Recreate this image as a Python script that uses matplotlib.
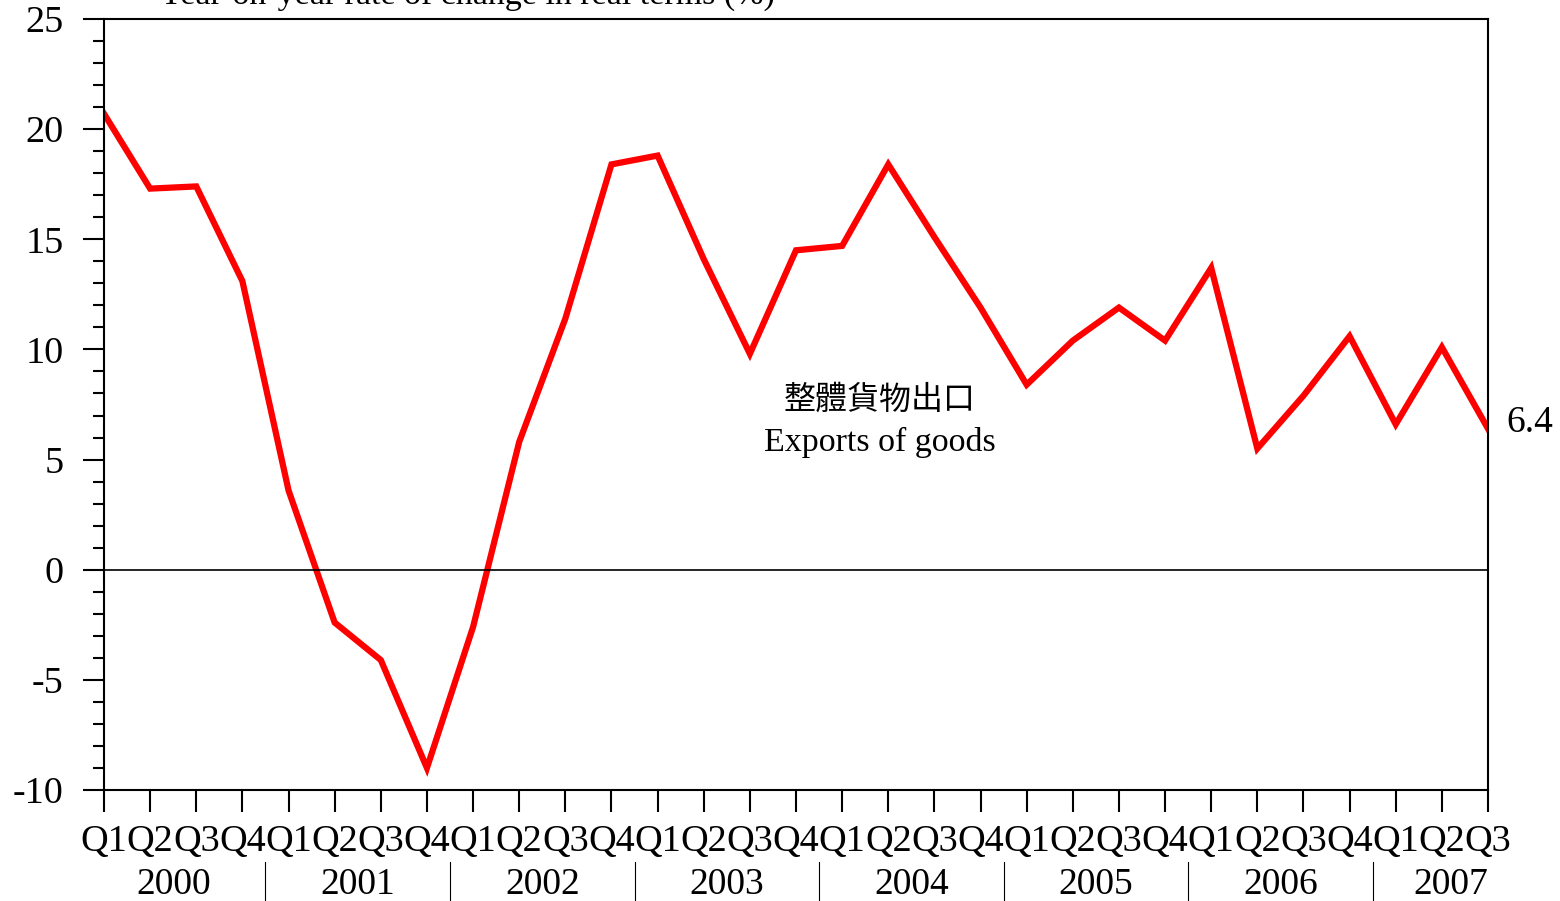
import matplotlib.pyplot as plt
from matplotlib.ticker import MultipleLocator

# Data (year-on-year % change, real terms)
quarters = ["Q1", "Q2", "Q3", "Q4"] * 7 + ["Q1", "Q2", "Q3"]
years = ["2000", "2001", "2002", "2003", "2004", "2005", "2006", "2007"]
exports = [20.7, 17.3, 17.4, 13.1,
           3.6, -2.4, -4.1, -9.0,
           -2.6, 5.8, 11.4, 18.4,
           18.8, 14.1, 9.8, 14.5,
           14.7, 18.4, 15.1, 11.9,
           8.4, 10.4, 11.9, 10.4,
           13.7, 5.5, 7.9, 10.6,
           6.6, 10.1, 6.4]

SERIF = ["Liberation Serif", "DejaVu Serif"]
CJK = ["Noto Sans CJK TC", "DejaVu Sans"]


def main():
    plt.rcParams["font.family"] = SERIF
    plt.rcParams["axes.unicode_minus"] = False
    fig = plt.figure(figsize=(15.6, 9.01), dpi=100)
    ax = fig.add_axes([104 / 1560, 1 - 790 / 901, 1384 / 1560, 771 / 901])

    x = list(range(len(exports)))
    ax.plot(x, exports, color="#ff0000", lw=4.5, solid_joinstyle="miter")
    ax.axhline(0, color="black", lw=1.2)

    ax.set_xlim(0, len(exports) - 1)
    ax.set_ylim(-10, 25)

    # y axis
    ax.yaxis.set_major_locator(MultipleLocator(5))
    ax.yaxis.set_minor_locator(MultipleLocator(1))
    ax.tick_params(axis="y", which="major", direction="out", length=15,
                   width=1.5, labelsize=27.5, pad=14)
    ax.tick_params(axis="y", which="minor", direction="out", length=8, width=1.5)

    # x axis
    ax.set_xticks(x)
    ax.set_xticklabels(quarters)
    ax.tick_params(axis="x", direction="out", length=16, width=1.5,
                   labelsize=27.5, pad=9)

    for s in ax.spines.values():
        s.set_linewidth(1.5)

    # year labels and separators under quarter labels
    for k, yr in enumerate(years):
        if k < 7:
            cx = 4 * k + 1.5
        else:
            cx = 29.2
        ax.text(cx, -0.123, yr, transform=ax.get_xaxis_transform(),
                ha="center", va="center", fontsize=27)
    for k in range(7):
        sx = 4 * k + 3.5
        ax.plot([sx, sx], [-0.094, -0.15], transform=ax.get_xaxis_transform(),
                color="black", lw=0.8, clip_on=False)

    # series label
    ax.text(16.82, 7.7, "整體貨物出口", family=CJK, fontsize=23,
            ha="center", va="center")
    ax.text(16.82, 5.76, "Exports of goods", fontsize=24.5,
            ha="center", va="center")

    # last value
    ax.annotate("6.4", (x[-1], exports[-1]), xytext=(13, 4),
                textcoords="offset points", fontsize=27,
                ha="left", va="center", annotation_clip=False)

    # axis title (mostly cut off at the top of the image, as in the original)
    fig.text(775 / 1560, 1 - 4 / 901, "Year-on-year rate of change in real terms (%)",
             fontsize=24.5, ha="right", va="baseline")

    fig.savefig("out.png", dpi=100)


if __name__ == "__main__":
    main()
